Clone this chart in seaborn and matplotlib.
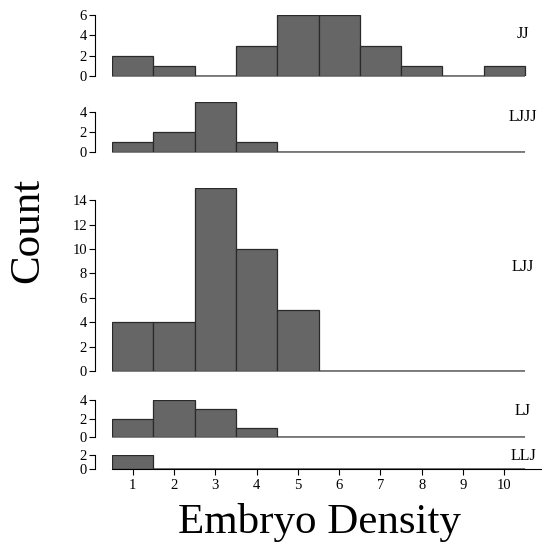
import matplotlib
matplotlib.use("Agg")
import matplotlib.pyplot as plt
import pandas as pd
import seaborn as sns

# Embryo density histograms per genotype group
density = [1, 2, 3, 4, 5, 6, 7, 8, 9, 10]
groups = ["JJ", "LJJJ", "LJJ", "LJ", "LLJ"]
count_jj = [2, 1, 0, 3, 6, 6, 3, 1, 0, 1]
count_ljjj = [1, 2, 5, 1, 0, 0, 0, 0, 0, 0]
count_ljj = [4, 4, 15, 10, 5, 0, 0, 0, 0, 0]
count_lj = [2, 4, 3, 1, 0, 0, 0, 0, 0, 0]
count_llj = [2, 0, 0, 0, 0, 0, 0, 0, 0, 0]
counts = [count_jj, count_ljjj, count_ljj, count_lj, count_llj]
yticks = [[0, 2, 4, 6], [0, 2, 4], [0, 2, 4, 6, 8, 10, 12, 14], [0, 2, 4], [0, 2]]
ymax = [6, 5, 15, 4, 2]

sns.set_style("ticks")
plt.rcParams["font.family"] = ["Liberation Serif", "DejaVu Serif"]
plt.rcParams["text.color"] = "black"
plt.rcParams["xtick.color"] = "black"
plt.rcParams["ytick.color"] = "black"
plt.rcParams["axes.edgecolor"] = "black"

W = H = 542
fig = plt.figure(figsize=(W / 100, H / 100), dpi=100)

# panel pixel extents (bottom y, top y)
panels = [(76, 15), (152, 102), (371, 188), (437, 400), (469, 455)]
label_y = [34, 117, 267, 411, 456]
x_left, x_right = 112, 541
xmax = 0.5 + (x_right - x_left) / 41.3
edges = [d - 0.5 for d in density] + [density[-1] + 0.5]

for i, (g, c) in enumerate(zip(groups, counts)):
    yb, yt = panels[i]
    ax = fig.add_axes([x_left / W, 1 - yb / H, (x_right - x_left) / W, (yb - yt) / H])
    df = pd.DataFrame({"density": density, "n": c})
    # baseline of the histogram
    ax.hlines(0, edges[0], edges[-1], color="#777777", linewidth=1.3, zorder=0.5,
              clip_on=False)
    sns.histplot(data=df, x="density", weights="n", bins=edges, ax=ax, color="#666666",
                 edgecolor="#2a2a2a", linewidth=0.9, alpha=1)
    ax.set_xlim(0.5, xmax)
    ax.set_ylim(0, ymax[i])
    ax.set_ylabel("")
    ax.set_xlabel("")
    ax.set_yticks(yticks[i])
    ax.spines["left"].set_position(("outward", 12))
    ax.spines["left"].set_bounds(0, yticks[i][-1])
    ax.spines["top"].set_visible(False)
    ax.spines["right"].set_visible(False)
    ax.tick_params(axis="y", labelsize=10.5, length=4, width=0.8, pad=2)
    for s in ax.spines.values():
        s.set_linewidth(0.8)
    if i < len(groups) - 1:
        ax.spines["bottom"].set_visible(False)
        ax.set_xticks([])
    else:
        ax.set_xticks(density)
        ax.tick_params(axis="x", labelsize=10.5, length=4, width=0.8, pad=3)
    fig.text(523 / W, 1 - label_y[i] / H, g, ha="center", va="center", fontsize=11.5)

fig.text(28 / W, 1 - 230 / H, "Count", rotation=90, ha="center", va="center", fontsize=31)
fig.text(319 / W, 1 - 522 / H, "Embryo Density", ha="center", va="center", fontsize=31)

fig.savefig("out.png", dpi=100)
